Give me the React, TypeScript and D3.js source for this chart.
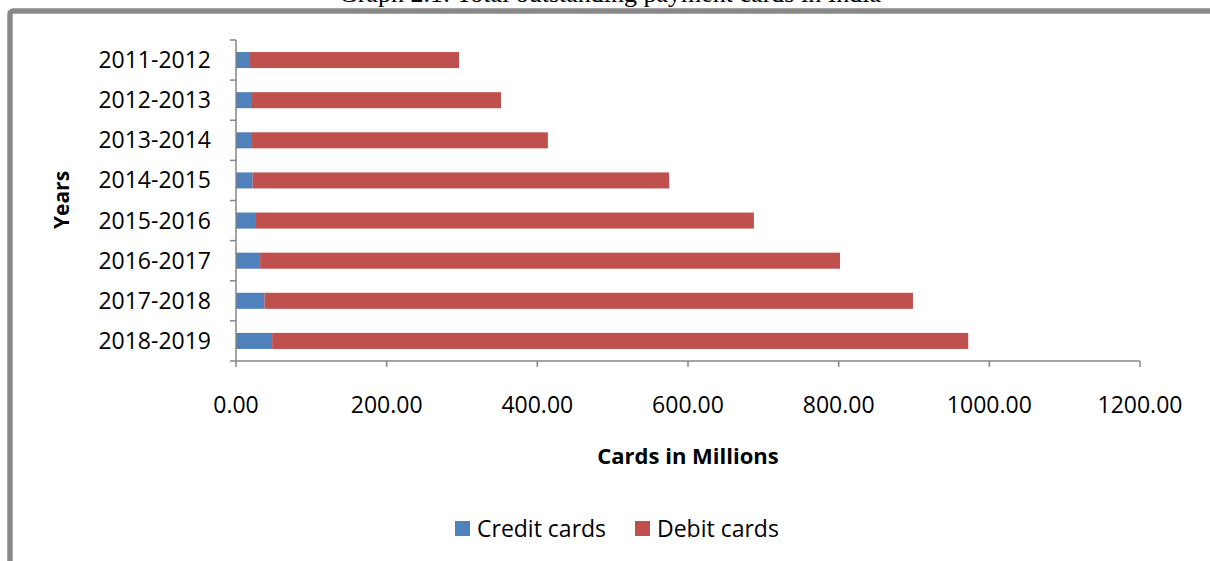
import React from "react";
import * as d3 from "d3";

const years = [
  "2011-2012",
  "2012-2013",
  "2013-2014",
  "2014-2015",
  "2015-2016",
  "2016-2017",
  "2017-2018",
  "2018-2019",
];
const creditCards = [18.6, 20.0, 20.0, 22.0, 26.5, 32.0, 37.8, 48.0];
const debitCards = [277.4, 331.8, 394.0, 553.0, 661.0, 769.8, 860.8, 924.0];
const xTicks = [0, 200, 400, 600, 800, 1000, 1200];
const seriesNames = ["Credit cards", "Debit cards"];
const seriesColors = ["#4F81BD", "#C0504D"];

const W = 1210;
const H = 561;
const FONT = "'Open Sans', 'Noto Sans', sans-serif";

export default function App() {
  const x = d3.scaleLinear().domain([0, 1200]).range([236, 1140]);
  const y = d3
    .scaleBand<string>()
    .domain(years)
    .range([40, 361])
    .paddingInner(0.6)
    .paddingOuter(0.3);
  const step = y.step();
  const axisColor = "#868686";

  const stacked = years.map((yr, i) => ({
    year: yr,
    segs: [
      { x0: 0, x1: creditCards[i], c: seriesColors[0] },
      { x0: creditCards[i], x1: creditCards[i] + debitCards[i], c: seriesColors[1] },
    ],
  }));

  const boundaries = d3.range(years.length + 1).map((k) => 40 + k * step);

  return (
    <svg
      width={W}
      height={H}
      style={{ position: "absolute", left: 0, top: 0, background: "#fff" }}
    >
      <text
        x={610}
        y={2}
        textAnchor="middle"
        fontFamily="'Liberation Serif', 'Times New Roman', serif"
        fontSize={26}
        fill="#000"
      >
        Graph 2.1: Total outstanding payment cards in India
      </text>
      <rect
        x={10}
        y={11}
        width={1240}
        height={600}
        rx={3}
        fill="none"
        stroke="#898989"
        strokeWidth={5.5}
      />

      {stacked.map((d) =>
        d.segs.map((s, j) => (
          <rect
            key={d.year + j}
            x={x(s.x0)}
            y={y(d.year)}
            width={x(s.x1) - x(s.x0)}
            height={y.bandwidth()}
            fill={s.c}
          />
        ))
      )}

      {/* y axis */}
      <line x1={236} x2={236} y1={40} y2={361} stroke={axisColor} strokeWidth={1.5} />
      {boundaries.map((b, i) => (
        <line key={"yt" + i} x1={230} x2={236} y1={b} y2={b} stroke={axisColor} strokeWidth={1.5} />
      ))}
      {years.map((yr) => (
        <text
          key={"yl" + yr}
          x={211}
          y={(y(yr) as number) + y.bandwidth() / 2}
          dy="0.35em"
          textAnchor="end"
          fontFamily={FONT}
          fontSize={23}
          fill="#000"
        >
          {yr}
        </text>
      ))}

      {/* x axis */}
      <line x1={236} x2={1140} y1={361} y2={361} stroke={axisColor} strokeWidth={1.5} />
      {xTicks.map((t) => (
        <g key={"xt" + t}>
          <line x1={x(t)} x2={x(t)} y1={361} y2={367} stroke={axisColor} strokeWidth={1.5} />
          <text
            x={x(t)}
            y={405}
            dy="0.35em"
            textAnchor="middle"
            fontFamily={FONT}
            fontSize={23}
            fill="#000"
          >
            {t.toFixed(2)}
          </text>
        </g>
      ))}

      <text
        x={688}
        y={456}
        dy="0.35em"
        textAnchor="middle"
        fontFamily={FONT}
        fontWeight="bold"
        fontSize={22}
        fill="#000"
      >
        Cards in Millions
      </text>
      <text
        transform="translate(62,200) rotate(-90)"
        dy="0.35em"
        textAnchor="middle"
        fontFamily={FONT}
        fontWeight="bold"
        fontSize={21}
        fill="#000"
      >
        Years
      </text>

      {/* legend */}
      {seriesNames.map((n, i) => {
        const lx = [455, 635][i];
        return (
          <g key={"lg" + n}>
            <rect x={lx} y={521} width={15} height={15} fill={seriesColors[i]} />
            <text
              x={lx + 22}
              y={529}
              dy="0.35em"
              fontFamily={FONT}
              fontSize={23}
              fill="#000"
            >
              {n}
            </text>
          </g>
        );
      })}
    </svg>
  );
}
